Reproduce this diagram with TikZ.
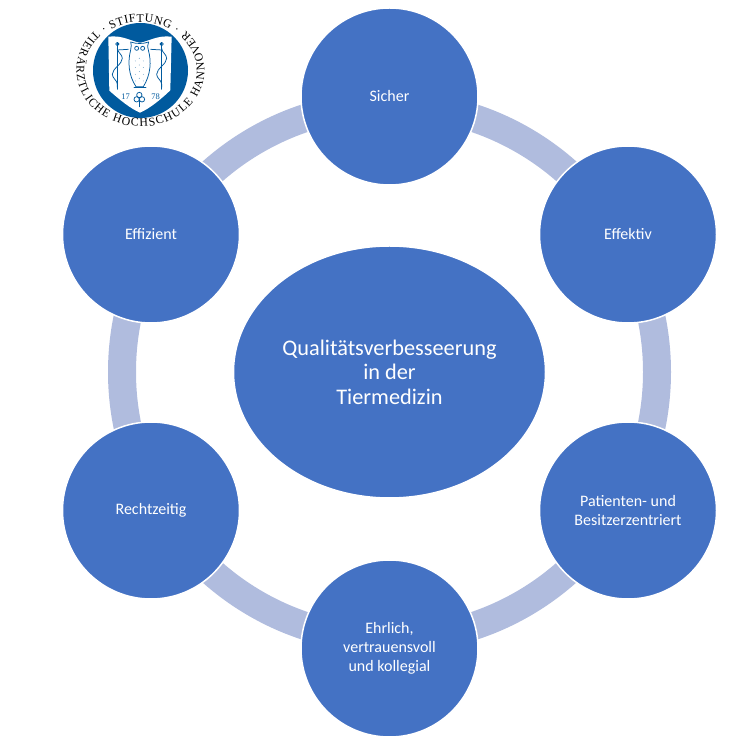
\documentclass[tikz,border=0pt]{standalone}
\usepackage{fontspec}
\setmainfont{Carlito}
\newfontfamily\sealfont{Liberation Serif}
\usetikzlibrary{shapes.geometric,decorations.text,decorations.pathmorphing}
\definecolor{nodeblue}{HTML}{4472C4}
\definecolor{ringblue}{HTML}{B0BCDE}
\definecolor{sealblue}{HTML}{005A9E}
\tikzset{
  x=1pt,y=1pt,
  petal/.style={circle,fill=nodeblue,draw=white,line width=1.5pt,inner sep=0pt,minimum size=177pt,text=white,align=center,font=\fontsize{16}{19.3}\selectfont},
  hub/.style={ellipse,fill=nodeblue,draw=white,line width=1.5pt,inner sep=0pt,minimum width=312pt,minimum height=252pt,text=white,align=center,font=\fontsize{22.3}{24.4}\selectfont},
  ringband/.style={draw=ringblue,line width=28pt},
  sealline/.style={draw=sealblue,line width=0.75pt,line cap=round,line join=round}
}
\begin{document}
\begin{tikzpicture}
\useasboundingbox (0,0) rectangle (750,750);
\coordinate (c) at (389.5,378);
\draw[ringband] (c) circle[radius=267.5];
\node[hub] (hubnode) at (c) {Qualitätsverbesseerung\\in der\\Tiermedizin};
\node[petal] (sicher) at (389.5,653.5) {Sicher};
\node[petal] (effektiv) at (628,515.5) {Effektiv};
\node[petal] (patient) at (628,239.5) {Patienten- und\\Besitzerzentriert};
\node[petal] (ehrlich) at (389.5,101.5) {Ehrlich,\\vertrauensvoll\\und kollegial};
\node[petal] (recht) at (151,239.5) {Rechtzeitig};
\node[petal] (effizient) at (151,515.5) {Effizient};
% seal
\coordinate (seal) at (140.5,679.5);
\fill[sealblue] (seal) circle[radius=47.5];
\path[decorate,decoration={text along path,text align={fit to path},
  text={|\fontsize{11.8}{13}\sealfont|TIERÄRZTLICHE HOCHSCHULE HANNOVER}}]
  ([shift={(135:64 and 56)}]seal) arc[start angle=135,end angle=405,x radius=64,y radius=56];
\path[decorate,decoration={text along path,text align={fit to path},
  text={|\fontsize{11.8}{13}\sealfont|· STIFTUNG ·}}]
  ([shift={(130:56 and 48.5)}]seal) arc[start angle=130,end angle=50,x radius=56,y radius=48.5];
\begin{scope}[shift={(60,750)},x=0.3333pt,y=-0.3333pt]
\fill[white] (145,110) .. controls (190,105) and (215,125) .. (240,128) .. controls (265,125) and (290,105) .. (335,110)
  -- (331,270) -- (330,272) .. controls (300,300) and (270,325) .. (240,338) .. controls (210,325) and (180,300) .. (148,272) -- cycle;
% owl
\draw[sealline] (212,150) .. controls (203,185) and (205,225) .. (228,260) -- (250,260) .. controls (272,225) and (275,185) .. (265,150) .. controls (262,140) and (264,130) .. (266,126) .. controls (250,132) and (228,132) .. (212,126) .. controls (214,132) and (215,140) .. (212,150) -- cycle;
\draw[sealline] (230,145) circle[radius=6];
\draw[sealline] (248,145) circle[radius=6];
\draw[sealline] (222,262) -- (258,262);
\foreach \yy in {175,195,215,235} {\fill[sealblue] (238,\yy) circle[radius=1.2];\fill[sealblue] (226,\yy+8) circle[radius=1];\fill[sealblue] (250,\yy+8) circle[radius=1];}
% staffs
\draw[sealline] (172,130) -- (172,268);
\draw[sealline] (305,130) -- (305,268);
\draw[sealline] (172,132) circle[radius=5];
\draw[sealline] (305,132) circle[radius=5];
\draw[sealline,decorate,decoration={snake,segment length=32,amplitude=5}] (172,145) -- (172,262);
\draw[sealline,decorate,decoration={snake,segment length=32,amplitude=5}] (305,145) -- (305,262);
\draw[sealline] (172,150) -- (205,148);
\draw[sealline] (272,148) -- (305,150);
% crest
\draw[sealline] (238,285) circle[radius=8];
\draw[sealline] (230,298) circle[radius=8];
\draw[sealline] (246,298) circle[radius=8];
\draw[sealline] (238,300) -- (238,320);
\node[text=sealblue,font=\fontsize{8.5}{9}\sealfont,inner sep=0pt] (yeara) at (197,291) {17};
\node[text=sealblue,font=\fontsize{8.5}{9}\sealfont,inner sep=0pt] (yearb) at (287,291) {78};
\end{scope}
\end{tikzpicture}
\end{document}
